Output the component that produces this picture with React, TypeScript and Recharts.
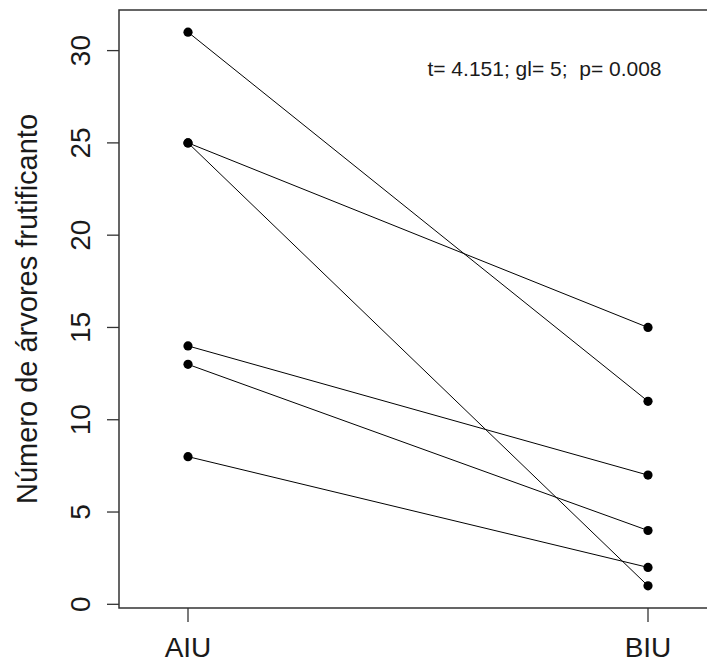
import { Line, LineChart, ReferenceArea, ReferenceDot, XAxis, YAxis } from "recharts";

// grupos e valores pareados (AIU -> BIU)
const groups = ["AIU", "BIU"];
const aiu = [31, 25, 25, 14, 13, 8];
const biu = [11, 15, 1, 7, 4, 2];
const yTicks = [0, 5, 10, 15, 20, 25, 30];
const xTicks = [1, 2];
const yLabel = "Número de árvores frutificanto";
const statText = "t= 4.151; gl= 5;  p= 0.008";

const FONT = "'Liberation Sans', Arial, Helvetica, sans-serif";
const X_DOMAIN: [number, number] = [0.85, 2.15];
const Y_DOMAIN: [number, number] = [-0.2, 32.2];

const pairs = aiu.map((a, i) => [
  { x: xTicks[0], y: a },
  { x: xTicks[1], y: biu[i] },
]);

function YTick(props: any) {
  const { x, y, payload } = props;
  const tx = x - 15;
  return (
    <text
      x={tx}
      y={y}
      transform={`rotate(-90, ${tx}, ${y})`}
      textAnchor="middle"
      fontSize={28}
      fontFamily={FONT}
      fill="#1a1a1a"
    >
      {payload.value}
    </text>
  );
}

function XTick(props: any) {
  const { x, y, payload } = props;
  return (
    <text
      x={x}
      y={y + 33}
      textAnchor="middle"
      fontSize={28}
      fontFamily={FONT}
      fill="#1a1a1a"
    >
      {groups[payload.value - 1]}
    </text>
  );
}

export default function App() {
  return (
    <div
      style={{
        position: "absolute",
        left: 0,
        top: 0,
        width: 707,
        height: 662,
        overflow: "hidden",
        background: "#fff",
      }}
    >
      <LineChart
        width={717}
        height={662}
        margin={{ top: 10, right: 0, left: 0, bottom: 0 }}
      >
        <XAxis
          type="number"
          dataKey="x"
          domain={X_DOMAIN}
          ticks={xTicks}
          allowDataOverflow
          height={54}
          axisLine={false}
          tickSize={14}
          tickLine={{ stroke: "#333", strokeWidth: 1.3 }}
          tick={<XTick />}
        />
        <YAxis
          type="number"
          dataKey="y"
          domain={Y_DOMAIN}
          ticks={yTicks}
          allowDataOverflow
          width={119}
          axisLine={false}
          tickSize={12}
          tickLine={{ stroke: "#333", strokeWidth: 1.3 }}
          tick={<YTick />}
          label={{
            content: (p: any) => {
              const vb = p.viewBox;
              const lx = vb.x + 37;
              const ly = vb.y + vb.height / 2;
              return (
                <text
                  x={lx}
                  y={ly}
                  transform={`rotate(-90, ${lx}, ${ly})`}
                  textAnchor="middle"
                  fontSize={29}
                  fontFamily={FONT}
                  fill="#1a1a1a"
                >
                  {yLabel}
                </text>
              );
            },
          }}
        />
        <ReferenceArea
          x1={X_DOMAIN[0]}
          x2={X_DOMAIN[1]}
          y1={Y_DOMAIN[0]}
          y2={Y_DOMAIN[1]}
          fill="none"
          fillOpacity={0}
          stroke="#333"
          strokeWidth={1.5}
        />
        {pairs.map((d, i) => (
          <Line
            key={i}
            data={d}
            dataKey="y"
            type="linear"
            stroke="#000"
            strokeWidth={1}
            dot={{ r: 4.6, fill: "#000", stroke: "#000", strokeWidth: 0 }}
            activeDot={false}
            isAnimationActive={false}
          />
        ))}
        <ReferenceDot
          x={1.775}
          y={29}
          r={0}
          fill="none"
          stroke="none"
          label={{
            content: (p: any) => {
              const vb = p.viewBox;
              const cx = vb.x + (vb.width || 0) / 2;
              const cy = vb.y + (vb.height || 0) / 2;
              return (
                <text
                  x={cx}
                  y={cy}
                  dy={7}
                  textAnchor="middle"
                  fontSize={21}
                  fontFamily={FONT}
                  fill="#1a1a1a"
                  xmlSpace="preserve"
                  style={{ whiteSpace: "pre" }}
                >
                  {statText}
                </text>
              );
            },
          }}
        />
      </LineChart>
    </div>
  );
}
